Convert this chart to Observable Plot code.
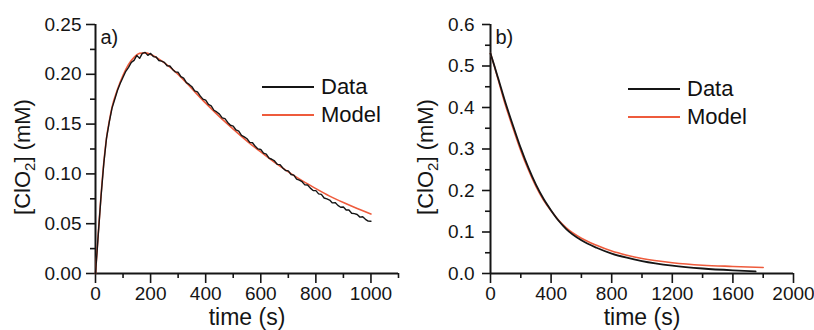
<!DOCTYPE html>
<html><head><meta charset="utf-8">
<script src="https://cdn.jsdelivr.net/npm/d3@7"></script>
<script src="https://cdn.jsdelivr.net/npm/@observablehq/plot@0.6"></script>
<style>
body{margin:0;background:#fff;}
#wrap{position:relative;width:814px;height:330px;overflow:hidden;font-family:"Liberation Sans",Arial,sans-serif;}
.panel{position:absolute;top:0;}
.leg{position:absolute;font-size:22px;line-height:22px;height:22px;display:flex;align-items:center;white-space:nowrap;color:#111;}
.leg .sw{display:inline-block;width:52px;height:0;border-top:2px solid;margin-right:7px;}
</style></head><body><div id="wrap"></div>
<script>
const FONT = '"Liberation Sans", Arial, sans-serif';
const RED = "#ee5b3c";
const BLACK = "#151515";

// Panel a) data (every 10 s) and model
const dataA_t = d3.range(0, 1001, 10);
const dataA = [0.000,0.039,0.077,0.110,0.136,0.152,0.166,0.175,0.184,0.191,
0.197,0.203,0.207,0.212,0.214,0.219,0.216,0.221,0.222,0.219,
0.221,0.2178,0.2174,0.2139,0.2132,0.2120,0.2086,0.2083,0.2049,0.2024,
0.2020,0.1977,0.1962,0.1916,0.1898,0.1875,0.1834,0.1824,0.1783,0.1751,
0.1740,0.1698,0.1684,0.1639,0.1622,0.1600,0.1562,0.1555,0.1517,0.1488,
0.1480,0.1441,0.1429,0.1387,0.1372,0.1353,0.1317,0.1313,0.1277,0.1251,
0.1245,0.1208,0.1199,0.1159,0.1147,0.1130,0.1096,0.1093,0.1059,0.1034,
0.1030,0.0994,0.0987,0.0948,0.0938,0.0922,0.0890,0.0889,0.0857,0.0834,
0.0832,0.0799,0.0794,0.0758,0.0750,0.0737,0.0709,0.0712,0.0684,0.0665,
0.0667,0.0638,0.0637,0.0605,0.0601,0.0592,0.0566,0.0570,0.0544,0.0526,
0.0525];
const modelA_t = [0,10,20,30,40,50,60,80,100,120,140,160,180,200,250,300,350,400,450,500,550,600,650,700,750,800,850,900,950,1000];
const modelA = [0,0.040,0.078,0.111,0.136,0.153,0.167,0.185,0.199,0.210,0.217,0.221,0.2215,0.220,0.2115,0.200,0.1855,0.171,0.1575,0.145,0.133,0.122,0.1115,0.102,0.0932,0.0852,0.0777,0.0712,0.0652,0.0597];

// Panel b) data and model
const dataB_t = [0,25,50,100,150,200,250,300,350,400,450,500,600,700,800,900,1000,1200,1400,1600,1750];
const dataB = [0.530,0.501,0.471,0.410,0.355,0.302,0.255,0.214,0.180,0.152,0.127,0.107,0.080,0.062,0.048,0.038,0.030,0.019,0.012,0.0075,0.005];
const modelB_t = [0,25,50,100,150,200,250,300,350,400,450,500,600,700,800,900,1000,1200,1400,1600,1800];
const modelB = [0.530,0.500,0.468,0.404,0.349,0.296,0.250,0.210,0.177,0.151,0.128,0.110,0.085,0.068,0.054,0.044,0.036,0.026,0.020,0.017,0.0145];

// Ticks
const xMajorA = [0,200,400,600,800,1000];
const xMinorA = [100,300,500,700,900,1100];
const yMajorA = [0,0.05,0.10,0.15,0.20,0.25];
const yMinorA = [0.025,0.075,0.125,0.175,0.225];
const xMajorB = [0,400,800,1200,1600,2000];
const xMinorB = [200,600,1000,1400,1800];
const yMajorB = [0,0.1,0.2,0.3,0.4,0.5,0.6];
const yMinorB = [0.05,0.15,0.25,0.35,0.45,0.55];

const seriesNames = ["Data", "Model"];
const xTitle = "time (s)";
const yTitle = "[ClO2] (mM)";

function panel(o) {
  const dRows = o.dt.map((t,i)=>({t, v:o.d[i]}));
  const mRows = o.mt.map((t,i)=>({t, v:o.m[i]}));
  const svg = Plot.plot({
    width: 407, height: 330,
    marginLeft: o.ml, marginRight: o.mr, marginTop: 24, marginBottom: 57,
    style: {fontFamily: FONT, background: "transparent", color: BLACK, overflow: "visible"},
    x: {domain: o.xd}, y: {domain: o.yd},
    marks: [
      Plot.axisY(o.yMinor, {tickSize: 5, tickFormat: () => "", label: null, strokeWidth: 1.6}),
      Plot.axisY(o.yMajor, {tickSize: o.yts, tickPadding: o.ytp, tickFormat: d3.format(o.yf), fontSize: 19, label: null, strokeWidth: 1.6}),
      Plot.axisX(o.xMinor, {tickSize: 5, tickFormat: () => "", label: null, strokeWidth: 1.6}),
      Plot.axisX(o.xMajor, {tickSize: 10, tickPadding: 3, tickFormat: d3.format("d"), fontSize: 19, label: null, strokeWidth: 1.6}),
      Plot.ruleX([0], {strokeWidth: 2, stroke: BLACK}),
      Plot.ruleY([0], {strokeWidth: 2, stroke: BLACK}),
      Plot.line(mRows, {x:"t", y:"v", stroke: RED, strokeWidth: 1.6, curve: "monotone-x"}),
      Plot.line(dRows, {x:"t", y:"v", stroke: BLACK, strokeWidth: o.dw, curve: o.dc}),
      Plot.text([o.tag], {frameAnchor: "top-left", textAnchor: "start", lineAnchor: "bottom", dx: 5, dy: 19, fontSize: 20, fill: BLACK}),
      Plot.text([xTitle], {frameAnchor: "bottom", textAnchor: "middle", lineAnchor: "bottom", dy: 51, fontSize: 23, fill: BLACK}),
      Plot.text([yTitle], {frameAnchor: "left", textAnchor: "middle", lineAnchor: "middle", rotate: -90, dx: o.ytx, dy: 8, fontSize: 22, fill: BLACK})
    ]
  });
  svg.classList.add("panel");
  svg.style.left = o.left + "px";
  d3.select(svg).selectAll("text").filter(function(){ return this.textContent === yTitle; })
    .html('[ClO<tspan font-size="15" dy="5">2</tspan><tspan dy="-5">] (mM)</tspan>');
  return svg;
}

const wrap = document.getElementById("wrap");
wrap.appendChild(panel({dt: dataA_t, d: dataA, mt: modelA_t, m: modelA, xd: [0,1100], yd: [0,0.25],
  xMajor: xMajorA, xMinor: xMinorA, yMajor: yMajorA, yMinor: yMinorA, yf: ".2f", yts: 9, ytp: 5,
  ml: 95, mr: 9, left: 0, tag: "a)", ytx: -73, dw: 1.4, dc: "linear"}));
wrap.appendChild(panel({dt: dataB_t, d: dataB, mt: modelB_t, m: modelB, xd: [0,2000], yd: [0,0.6],
  xMajor: xMajorB, xMinor: xMinorB, yMajor: yMajorB, yMinor: yMinorB, yf: ".1f", yts: 8, ytp: 8,
  ml: 83, mr: 21, left: 407, tag: "b)", ytx: -65, dw: 1.8, dc: "monotone-x"}));

function legend(x, y, color, name) {
  const d = document.createElement("div");
  d.className = "leg";
  d.style.left = x + "px"; d.style.top = (y - 11) + "px";
  const s = document.createElement("span"); s.className = "sw"; s.style.borderColor = color;
  d.appendChild(s); d.appendChild(document.createTextNode(name));
  wrap.appendChild(d);
}
const legColors = [BLACK, RED];
seriesNames.forEach((n,i) => {
  legend(262, 87 + 28*i, legColors[i], n);
  legend(628, 89 + 28*i, legColors[i], n);
});
</script></body></html>
